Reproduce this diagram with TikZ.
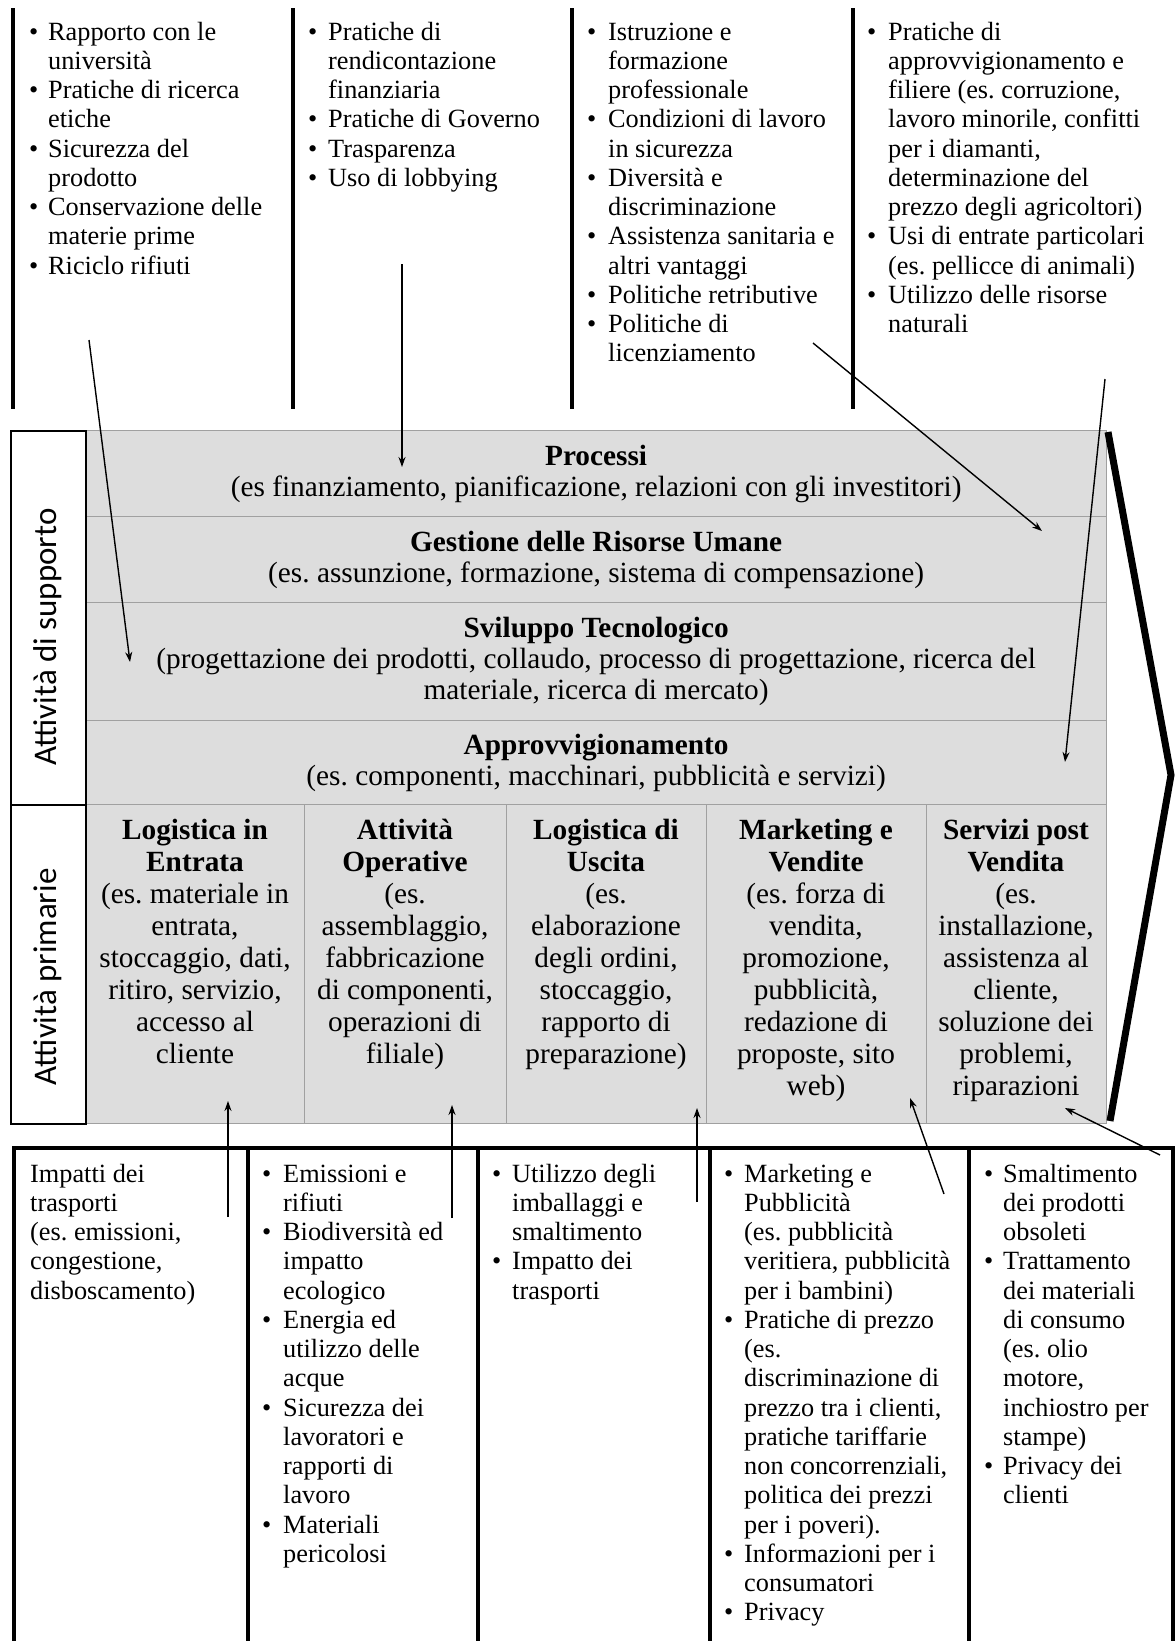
\documentclass[tikz,border=0pt]{standalone}
\usepackage{fontspec}
\setmainfont{Liberation Serif}
\newfontfamily\sidefont{Carlito}
\usetikzlibrary{arrows.meta}
\frenchspacing
\definecolor{cellfill}{HTML}{DDDDDD}
\definecolor{cellline}{HTML}{A0A0A0}
\newcommand\listfont{\fontsize{26.3}{29.25}\selectfont}
\newcommand\supfont{\fontsize{29.3}{31}\selectfont}
\newcommand\prifont{\fontsize{29.3}{32}\selectfont}
\newcommand\bu{\textbullet}
\newenvironment{blist}[1]{\begin{tabular}[t]{@{}p{#1}@{}l@{}}}{\end{tabular}}
\newenvironment{clist}{\begin{tabular}[t]{@{}c@{}}}{\end{tabular}}
\newenvironment{plist}{\begin{tabular}[t]{@{}l@{}}}{\end{tabular}}

\begin{document}
\begin{tikzpicture}[x=1pt,y=-1pt,
  cell/.style={draw=cellline, line width=1.2pt, fill=cellfill, inner sep=0pt, anchor=north west},
  sidebox/.style={draw=black, line width=2pt, fill=white, inner sep=0pt, anchor=north west},
  sidelabel/.style={rotate=90, font=\sidefont\fontsize{33}{36}\selectfont, inner sep=0pt},
  suptext/.style={align=center, font=\supfont, inner sep=0pt},
  pritext/.style={anchor=base, font=\prifont, inner sep=0pt},
  listtext/.style={anchor=base west, font=\listfont, inner sep=0pt},
  bar/.style={line width=4pt},
  link/.style={line width=1.4pt, -{Stealth[length=10pt,width=7pt]}},
  chevron/.style={line width=7pt, line join=miter}
]
\useasboundingbox (0,0) rectangle (1175,1641);

% ---------- upper issue columns ----------
\foreach \x in {12.5,293,572,853} \draw[bar] (\x,8) -- (\x,409);

\node[listtext] (u1) at (29,40) {\begin{blist}{19pt}
\bu & Rapporto con le\\ & università\\
\bu & Pratiche di ricerca\\ & etiche\\
\bu & Sicurezza del\\ & prodotto\\
\bu & Conservazione delle\\ & materie prime\\
\bu & Riciclo rifiuti
\end{blist}};

\node[listtext] (u2) at (308,40) {\begin{blist}{20pt}
\bu & Pratiche di\\ & rendicontazione\\ & finanziaria\\
\bu & Pratiche di Governo\\
\bu & Trasparenza\\
\bu & Uso di lobbying
\end{blist}};

\node[listtext] (u3) at (587,40) {\begin{blist}{21pt}
\bu & Istruzione e\\ & formazione\\ & professionale\\
\bu & Condizioni di lavoro\\ & in sicurezza\\
\bu & Diversità e\\ & discriminazione\\
\bu & Assistenza sanitaria e\\ & altri vantaggi\\
\bu & Politiche retributive\\
\bu & Politiche di\\ & licenziamento
\end{blist}};

\node[listtext] (u4) at (867,40) {\begin{blist}{21pt}
\bu & Pratiche di\\ & approvvigionamento e\\ & filiere (es. corruzione,\\
 & lavoro minorile, confitti\\ & per i diamanti,\\ & determinazione del\\
 & prezzo degli agricoltori)\\
\bu & Usi di entrate particolari\\ & (es. pellicce di animali)\\
\bu & Utilizzo delle risorse\\ & naturali
\end{blist}};

% ---------- support activities ----------
\node[cell, minimum width=1021pt, minimum height=86pt]  (proc) at (85,430) {};
\node[cell, minimum width=1021pt, minimum height=86pt]  (hr)   at (85,516) {};
\node[cell, minimum width=1021pt, minimum height=118pt] (tech) at (85,602) {};
\node[cell, minimum width=1021pt, minimum height=84pt]  (appr) at (85,720) {};

\node[suptext] (proct) at (proc.center) {\textbf{Processi}\\(es finanziamento, pianificazione, relazioni con gli investitori)};
\node[suptext] (hrt) at (hr.center) {\textbf{Gestione delle Risorse Umane}\\(es. assunzione, formazione, sistema di compensazione)};
\node[suptext] (techt) at (tech.center) {\textbf{Sviluppo Tecnologico}\\(progettazione dei prodotti, collaudo, processo di progettazione, ricerca del\\materiale, ricerca di mercato)};
\node[suptext] (apprt) at (appr.center) {\textbf{Approvvigionamento}\\(es. componenti, macchinari, pubblicità e servizi)};

% ---------- primary activities ----------
\node[cell, minimum width=219pt, minimum height=319pt] (p1) at (85,804) {};
\node[cell, minimum width=202pt, minimum height=319pt] (p2) at (304,804) {};
\node[cell, minimum width=200pt, minimum height=319pt] (p3) at (506,804) {};
\node[cell, minimum width=220pt, minimum height=319pt] (p4) at (706,804) {};
\node[cell, minimum width=180pt, minimum height=319pt] (p5) at (926,804) {};

\node[pritext] (p1t) at (195,839) {\begin{clist}
\textbf{Logistica in}\\\textbf{Entrata}\\(es. materiale in\\entrata,\\stoccaggio, dati,\\ritiro, servizio,\\accesso al\\cliente
\end{clist}};
\node[pritext] (p2t) at (405,839) {\begin{clist}
\textbf{Attività}\\\textbf{Operative}\\(es.\\assemblaggio,\\fabbricazione\\di componenti,\\operazioni di\\filiale)
\end{clist}};
\node[pritext] (p3t) at (606,839) {\begin{clist}
\textbf{Logistica di}\\\textbf{Uscita}\\(es.\\elaborazione\\degli ordini,\\stoccaggio,\\rapporto di\\preparazione)
\end{clist}};
\node[pritext] (p4t) at (816,839) {\begin{clist}
\textbf{Marketing e}\\\textbf{Vendite}\\(es. forza di\\vendita,\\promozione,\\pubblicità,\\redazione di\\proposte, sito\\web)
\end{clist}};
\node[pritext] (p5t) at (1016,839) {\begin{clist}
\textbf{Servizi post}\\\textbf{Vendita}\\(es.\\installazione,\\assistenza al\\cliente,\\soluzione dei\\problemi,\\riparazioni
\end{clist}};

% ---------- side labels ----------
\node[sidebox, minimum width=75pt, minimum height=374pt] (supbox) at (10,430) {};
\node[sidebox, minimum width=75pt, minimum height=319pt] (pribox) at (10,804) {};
\node[sidelabel] (suplab) at (47.5,637) {Attività di supporto};
\node[sidelabel] (prilab) at (47.5,977) {Attività primarie};

% ---------- value chain margin ----------
\coordinate (chA) at (1108,432);
\coordinate (chB) at (1171,775);
\coordinate (chC) at (1110,1121);
\draw[chevron] (chA) -- (chB) -- (chC);

% ---------- lower issue columns ----------
\draw[bar] (12,1148) -- (1175,1148);
\foreach \x in {14,248,478,710,969,1173} \draw[bar] (\x,1148) -- (\x,1641);

\node[listtext] (l1) at (30,1182) {\begin{plist}
Impatti dei\\trasporti\\(es. emissioni,\\congestione,\\disboscamento)
\end{plist}};

\node[listtext] (l2) at (262,1182) {\begin{blist}{21pt}
\bu & Emissioni e\\ & rifiuti\\
\bu & Biodiversità ed\\ & impatto\\ & ecologico\\
\bu & Energia ed\\ & utilizzo delle\\ & acque\\
\bu & Sicurezza dei\\ & lavoratori e\\ & rapporti di\\ & lavoro\\
\bu & Materiali\\ & pericolosi
\end{blist}};

\node[listtext] (l3) at (492,1182) {\begin{blist}{20pt}
\bu & Utilizzo degli\\ & imballaggi e\\ & smaltimento\\
\bu & Impatto dei\\ & trasporti
\end{blist}};

\node[listtext] (l4) at (724,1182) {\begin{blist}{20pt}
\bu & Marketing e\\ & Pubblicità\\ & (es. pubblicità\\ & veritiera, pubblicità\\ & per i bambini)\\
\bu & Pratiche di prezzo\\ & (es.\\ & discriminazione di\\ & prezzo tra i clienti,\\
 & pratiche tariffarie\\ & non concorrenziali,\\ & politica dei prezzi\\ & per i poveri).\\
\bu & Informazioni per i\\ & consumatori\\
\bu & Privacy
\end{blist}};

\node[listtext] (l5) at (984,1182) {\begin{blist}{19pt}
\bu & Smaltimento\\ & dei prodotti\\ & obsoleti\\
\bu & Trattamento\\ & dei materiali\\ & di consumo\\ & (es. olio\\ & motore,\\ & inchiostro per\\ & stampe)\\
\bu & Privacy dei\\ & clienti
\end{blist}};

% ---------- links from issues to activities ----------
\coordinate (s1) at (89,340);    \coordinate (e1) at (130,662);
\coordinate (s2) at (402,264);   \coordinate (e2) at (402,467);
\coordinate (s3) at (813,343);   \coordinate (e3) at (1042,531);
\coordinate (s4) at (1105,379);  \coordinate (e4) at (1065,762);
\coordinate (s5) at (228,1217);  \coordinate (e5) at (228,1101);
\coordinate (s6) at (452,1218);  \coordinate (e6) at (452,1105);
\coordinate (s7) at (697,1202);  \coordinate (e7) at (697,1108);
\coordinate (s8) at (944,1194);  \coordinate (e8) at (910,1098);
\coordinate (s9) at (1160,1155); \coordinate (e9) at (1065,1108);
\foreach \i in {1,...,9} \draw[link] (s\i) -- (e\i);
\end{tikzpicture}
\end{document}
